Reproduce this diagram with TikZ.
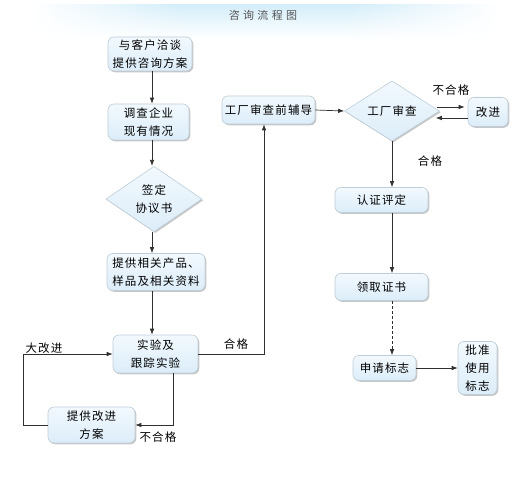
\documentclass[tikz,border=0pt]{standalone}
\usepackage{fontspec}
\newfontfamily\cjk[LetterSpace=10]{Noto Sans CJK SC}
\newfontfamily\cjkt[LetterSpace=30]{Noto Sans CJK SC}
\usetikzlibrary{arrows.meta,shapes.geometric,shadows,calc}
\definecolor{boxtop}{HTML}{F2F9FE}
\definecolor{boxbot}{HTML}{DCEDF9}
\definecolor{boxline}{HTML}{BFCDD8}
\definecolor{linec}{HTML}{303030}
\definecolor{bandc}{HTML}{D3EDF9}
\definecolor{titlec}{HTML}{555555}
\tikzset{
  txt/.style={font=\cjk\fontsize{11.5}{18}\selectfont, align=center, text=black},
  box/.style={txt, draw=boxline, line width=0.6pt, rounded corners=6pt,
    top color=boxtop, bottom color=boxbot, inner sep=0pt,
    drop shadow={shadow xshift=1.3pt, shadow yshift=-1.3pt, fill=black, opacity=0.22}},
  dia/.style={txt, diamond, draw=boxline, line width=0.6pt,
    top color=boxtop, bottom color=boxbot, inner sep=0pt,
    drop shadow={shadow xshift=1.3pt, shadow yshift=-1.3pt, fill=black, opacity=0.22}},
  arr/.style={draw=linec, line width=0.7pt, -{Latex[length=6pt,width=4.5pt]}},
  lab/.style={font=\cjk\fontsize{11.5}{14}\selectfont, text=black},
}
\begin{document}
\begin{tikzpicture}[x=1pt,y=-1pt]
\useasboundingbox[fill=white] (0,0) rectangle (530,500);
% title band: horizontal strips fading downwards
\foreach \i in {0,...,35} {
  \pgfmathsetmacro{\p}{100*(1-\i/36)^1.1}
  \colorlet{stripc}{bandc!\p!white}
  \pgfdeclarehorizontalshading{band\i}{100bp}{color(0bp)=(white); color(25bp)=(white); color(41bp)=(stripc); color(59bp)=(stripc); color(75bp)=(white); color(100bp)=(white)}
  \fill[shading=band\i] (30,5+\i) rectangle (500,6.05+\i);
}
\node[font=\cjkt\fontsize{11}{13}\selectfont, text=titlec] (title) at (263,15) {咨询流程图};
% column coordinates
\coordinate (cx) at (152,0);
\coordinate (rx) at (392,0);
\coordinate (ux) at (264,0);
\coordinate (lx) at (173,0);
\coordinate (ox) at (23,0);
% nodes
\node[box, minimum width=84pt, minimum height=34pt] (b1) at (150,54) {与客户洽谈\\提供咨询方案};
\node[box, minimum width=81pt, minimum height=36pt] (b2) at (148.5,122) {调查企业\\现有情况};
\node[dia, minimum width=96pt, minimum height=52pt] (d1) at (154,199) {签定\\协议书};
\node[box, minimum width=98pt, minimum height=37pt] (b4) at (156,272) {提供相关产品、\\样品及相关资料};
\node[box, minimum width=85pt, minimum height=38pt] (b5) at (155.5,354) {实验及\\跟踪实验};
\node[box, minimum width=87pt, minimum height=36pt] (b6) at (91.5,425) {提供改进\\方案};
\node[box, minimum width=93pt, minimum height=28pt] (b7) at (268.5,110) {工厂审查前辅导};
\node[dia, minimum width=95pt, minimum height=52pt] (d2) at (392,111) {工厂审查};
\node[box, minimum width=40pt, minimum height=29pt] (b9) at (488,112) {改进};
\node[box, minimum width=93pt, minimum height=25pt] (b10) at (381.5,200) {认证评定};
\node[box, minimum width=93pt, minimum height=27pt] (b11) at (381.5,287) {领取证书};
\node[box, minimum width=63pt, minimum height=25pt] (b12) at (384.5,368) {申请标志};
\node[box, minimum width=39pt, minimum height=53pt] (b13) at (477.5,368) {批准\\使用\\标志};
% connectors
\draw[arr] (b1.south -| cx) -- (b2.north -| cx);
\draw[arr] (b2.south -| cx) -- (d1.north -| cx);
\draw[arr] (d1.south -| cx) -- (b4.north -| cx);
\draw[arr] (b4.south -| cx) -- (b5.north -| cx);
\draw[arr] (b5.east) -| (b7.south -| ux);
\draw[arr] (b5.south -| lx) |- (b6.east);
\draw[arr] (b6.west) -- (b6.west -| ox) -- (b5.west -| ox) -- (b5.west);
\draw[arr] (b7.east) -- (d2.west);
\draw[arr] ([shift={(-3pt,4pt)}]d2.east) -- ([shift={(-3pt,4pt)}]d2.east -| b9.west);
\draw[arr] ([yshift=-7pt]d2.east -| b9.west) -- ([shift={(-4pt,-7pt)}]d2.east);
\draw[arr] (d2.south) -- (d2.south |- b10.north);
\draw[arr] (b10.south -| rx) -- (b11.north -| rx);
\draw[arr, dash pattern=on 3pt off 2pt] (b11.south -| rx) -- (b12.north -| rx);
\draw[arr] (b12.east) -- (b12.east -| b13.west);
% labels
\node[lab] (l1) at (451,90) {不合格};
\node[lab] (l2) at (430,161) {合格};
\node[lab] (l3) at (236,344) {合格};
\node[lab] (l4) at (44,348) {大改进};
\node[lab] (l5) at (158,437) {不合格};
\end{tikzpicture}
\end{document}
